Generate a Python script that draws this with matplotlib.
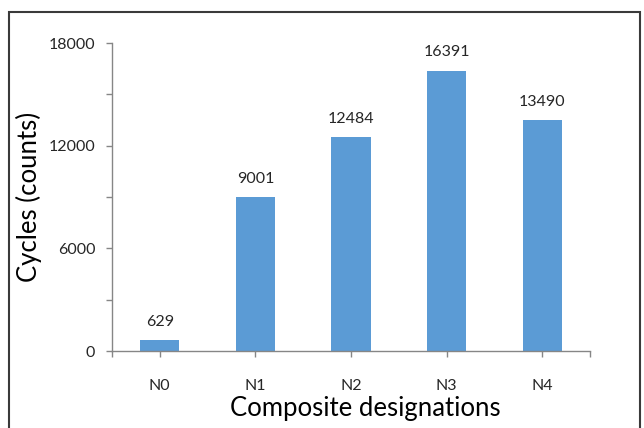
import matplotlib
matplotlib.use("Agg")
import matplotlib.pyplot as plt
from matplotlib.patches import Rectangle
from matplotlib.ticker import MultipleLocator

categories = ["N0", "N1", "N2", "N3", "N4"]
cycles = [629, 9001, 12484, 16391, 13490]
y_ticks = [0, 6000, 12000, 18000]

plt.rcParams["font.family"] = ["Lato", "DejaVu Sans"]

fig = plt.figure(figsize=(6.44, 4.28), dpi=100)
ax = fig.add_axes([0.1739, 0.1799, 0.9161 - 0.1739, 0.8995 - 0.1799])

axis_color = "#868686"
bar_color = "#5B9BD5"
text_color = "#262626"

x = range(len(categories))
bars = ax.bar(x, cycles, width=0.41, color=bar_color, zorder=2)

for xi, v in zip(x, cycles):
    ax.annotate(str(v), (xi, v), xytext=(0, 8), textcoords="offset points",
                ha="center", va="bottom", fontsize=11.5, color=text_color)

ax.set_xlim(-0.5, 4.5)
ax.set_ylim(0, 18000)
ax.set_yticks(y_ticks)
ax.yaxis.set_minor_locator(MultipleLocator(3000))
ax.set_xticks(list(x))
ax.set_xticklabels(categories)
ax.set_xticks([-0.5, 4.5], minor=True)

for side in ("top", "right"):
    ax.spines[side].set_visible(False)
for side in ("left", "bottom"):
    ax.spines[side].set_color(axis_color)
    ax.spines[side].set_linewidth(1.0)

ax.tick_params(axis="y", which="both", direction="out", color=axis_color,
               length=4, width=1.0, labelsize=11.5, labelcolor=text_color, pad=8)
ax.tick_params(axis="x", which="major", direction="out", color=axis_color,
               length=4, width=1.0, labelsize=11.5, labelcolor=text_color, pad=16)
ax.tick_params(axis="x", which="minor", direction="out", color=axis_color,
               length=4, width=1.0)

ax.set_ylabel("Cycles (counts)", fontsize=18.5, color="#000000", labelpad=5)
ax.set_xlabel("Composite designations", fontsize=18.5, color="#000000", labelpad=3)
ax.xaxis.set_label_coords(0.531, -0.145)

# outer frame around the chart area
fig.patches.append(Rectangle((9 / 644, -0.05), (640 - 9) / 644, 1.05 - 12 / 428,
                             transform=fig.transFigure, fill=False,
                             edgecolor="#3a3a3a", linewidth=1.5))

fig.savefig("out.png", dpi=100)
